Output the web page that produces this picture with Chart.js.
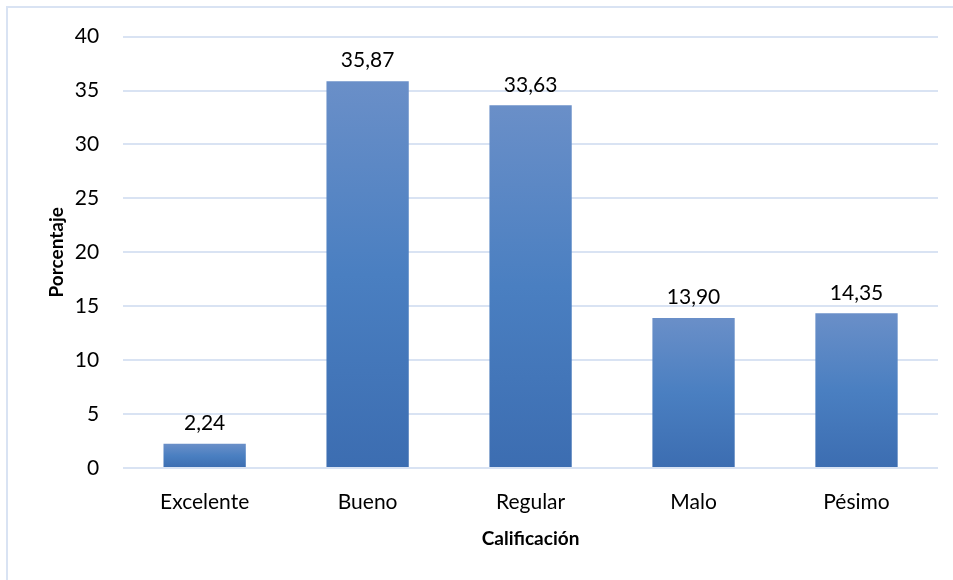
<!DOCTYPE html>
<html>
<head>
<meta charset="utf-8">
<script src="https://cdn.jsdelivr.net/npm/chart.js@4.4.1/dist/chart.umd.min.js"></script>
<style>
  html, body { margin: 0; padding: 0; background: #fff; }
  #wrap { position: relative; width: 953px; height: 580px; overflow: hidden; }
  #frame { position: absolute; left: 6px; top: 6px; width: 960px; height: 590px; border: 2px solid #d9e3f3; box-sizing: border-box; }
  canvas { position: absolute; left: 0; top: 0; }
</style>
</head>
<body>
<div id="wrap">
  <div id="frame"></div>
  <canvas id="chart" width="953" height="580"></canvas>
</div>
<script>
const categories = ['Excelente', 'Bueno', 'Regular', 'Malo', 'Pésimo'];
const percentages = [2.24, 35.87, 33.63, 13.90, 14.35];
const yTicks = [0, 5, 10, 15, 20, 25, 30, 35, 40];

const FONT = 'Lato, "Open Sans", sans-serif';

function barGradient(context) {
    const chart = context.chart;
    const yScale = chart.scales.y;
    if (!chart.chartArea || !yScale || context.raw == null) return '#4a7ec0';
    const top = yScale.getPixelForValue(context.raw);
    const base = yScale.getPixelForValue(0);
    if (!isFinite(top) || !isFinite(base) || top === base) return '#4a7ec0';
    const g = chart.ctx.createLinearGradient(0, top, 0, base);
    g.addColorStop(0, '#6a8fc8');
    g.addColorStop(0.5, '#4a7fc1');
    g.addColorStop(1, '#3c6db1');
    return g;
}

// value labels above each bar, comma decimals
const valueLabels = {
    id: 'valueLabels',
    afterDatasetsDraw(chart) {
        const ctx = chart.ctx;
        const meta = chart.getDatasetMeta(0);
        ctx.save();
        ctx.font = '21px ' + FONT;
        ctx.fillStyle = '#000';
        ctx.textAlign = 'center';
        ctx.textBaseline = 'bottom';
        meta.data.forEach((bar, i) => {
            const txt = percentages[i].toFixed(2).replace('.', ',');
            ctx.fillText(txt, bar.x, bar.y - 10);
        });
        ctx.restore();
    }
};

new Chart(document.getElementById('chart'), {
    type: 'bar',
    data: {
        labels: categories,
        datasets: [{
            data: percentages,
            backgroundColor: barGradient,
            borderWidth: 0,
            barPercentage: 0.505,
            categoryPercentage: 1
        }]
    },
    options: {
        responsive: false,
        animation: false,
        layout: { padding: { left: 45, right: 15, top: 27, bottom: 30 } },
        scales: {
            x: {
                grid: { display: false },
                border: { display: false },
                ticks: { color: '#000', font: { family: FONT, size: 21 }, padding: 14 },
                title: {
                    display: true,
                    text: 'Calificación',
                    color: '#000',
                    font: { family: FONT, size: 19, weight: 'bold' },
                    padding: { top: -2, bottom: 0 }
                }
            },
            y: {
                min: 0,
                max: 40,
                afterBuildTicks(axis) { axis.ticks = yTicks.map(v => ({ value: v })); },
                grid: { color: '#d9e3f3', lineWidth: 2, drawTicks: false },
                border: { display: false },
                ticks: { color: '#000', font: { family: FONT, size: 21 }, padding: 24 },
                title: {
                    display: true,
                    text: 'Porcentaje',
                    color: '#000',
                    font: { family: FONT, size: 19, weight: 'bold' },
                    padding: { top: 0, bottom: -17 }
                }
            }
        },
        plugins: {
            legend: { display: false },
            tooltip: { enabled: false }
        }
    },
    plugins: [valueLabels]
});
</script>
</body>
</html>
